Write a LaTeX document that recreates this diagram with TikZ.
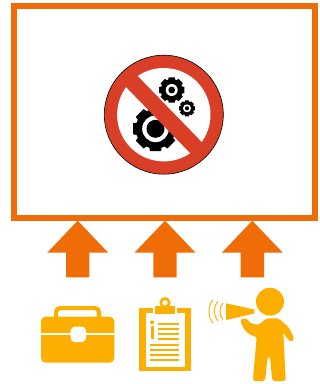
\documentclass[tikz,border=0pt]{standalone}
\usetikzlibrary{calc}
\definecolor{frameorange}{HTML}{EF6C06}
\definecolor{amber}{HTML}{FDAF00}
\definecolor{banred}{HTML}{D93F27}
\newcommand{\gearicon}[6]{%
  \fill[black] ($(#1,#2)+(-18:#4)$) \foreach \k in {0,45,...,315} {
      -- ($(#1,#2)+(\k-14:#3)$) -- ($(#1,#2)+(\k+14:#3)$)
      -- ($(#1,#2)+(\k+18:#4)$) -- ($(#1,#2)+(\k+27:#4)$)
    } -- cycle;
  \fill[white] (#1,#2) circle (#5);
  \fill[black] (#1,#2) circle (#6);}
\tikzset{
  icon/.style={fill=amber},
  hole/.style={fill=white},
  wave/.style={draw=amber, line width=1pt}}
\begin{document}
\begin{tikzpicture}[x=1pt,y=-1pt]
    \useasboundingbox (0,0) rectangle (320,384);
    \draw[frameorange, line width=6.2pt, fill=white] (14.2,6.2) rectangle (315.3,218.2);
    % no-gears sign
    \fill[banred, draw=black, line width=0.6pt] (163.8,114.7) circle (59.5);
    \fill[white] (163.8,114.7) circle (46.7);
    \gearicon{155.5}{128.8}{23}{19.8}{13.3}{9}
    \gearicon{171.7}{90}{13}{11}{6}{3.4}
    \gearicon{187}{108.3}{8.2}{6.9}{4}{2.1}
    \draw[banred, line width=16pt] (127.5,77) -- (200.5,152.3);
    % block arrows
    \foreach \ax in {77.7,165,252.3} {
      \fill[frameorange] (\ax,220.7) -- (\ax+30.5,252.7) -- (\ax+11.7,252.7) -- (\ax+11.7,277.3)
        -- (\ax-11.7,277.3) -- (\ax-11.7,252.7) -- (\ax-30.5,252.7) -- cycle;
    }
    % briefcase
    \draw[amber, line width=4.2pt, rounded corners=4pt] (56.1,318) -- (56.1,308.1) -- (98.9,308.1) -- (98.9,318);
    \fill[icon, rounded corners=4.5pt] (41,316.7) rectangle (114.3,362.7);
    \fill[hole] (41,333.2) rectangle (114.3,335.4);
    \fill[hole, rounded corners=4pt] (70.7,326.7) rectangle (86,342);
    % clipboard
    \fill[icon] (139.3,308.3) rectangle (190.7,371);
    \fill[hole] (145.7,313.3) rectangle (185,366.7);
    \fill[hole] (152.7,306) rectangle (177.3,316);
    \fill[icon] (155,306) rectangle (175,314);
    \draw[amber, line width=2.6pt] (165,302.7) circle (4.2);
    \fill[icon] (152,322.3) circle (2);
    \fill[icon] (150.7,326) rectangle (153.7,339);
    \foreach \ly in {323.7,328.7,333.7,338.7} {
      \fill[icon] (158,\ly-1) rectangle (179,\ly+1);
    }
    \foreach \ly in {344.7,349.7,355,360} {
      \fill[icon] (150,\ly-1) rectangle (179,\ly+1);
    }
    % person with loudhailer
    \fill[icon] (270,301.7) circle (14);
    \fill[icon, rounded corners=2.5pt] (240,319.3) -- (246.7,318.3) -- (250,323) -- (258.3,325)
      -- (266.7,318.3) -- (278.3,318.3) -- (288.3,326.7) -- (294.3,338.3) -- (291.7,342.3)
      -- (286.7,338.3) -- (283.3,331.7) -- (285.7,381) -- (272.3,381) -- (270,356.7)
      -- (267.7,356.7) -- (265,381) -- (252.8,381) -- (256.7,336.7) -- (250,335)
      -- (243.3,328.3) -- cycle;
    \fill[icon] (226,303.3) -- (254.3,309.5) -- (254.3,313.5) -- (226,320) -- cycle;
    \path[wave] (213,300) .. controls (207.7,306) and (207.7,317) .. (213,323);
    \path[wave] (218,301.5) .. controls (213,307) and (213,316) .. (218,321);
    \path[wave] (223,303) .. controls (219,307.5) and (219,315.5) .. (223,319.5);
\end{tikzpicture}
\end{document}
